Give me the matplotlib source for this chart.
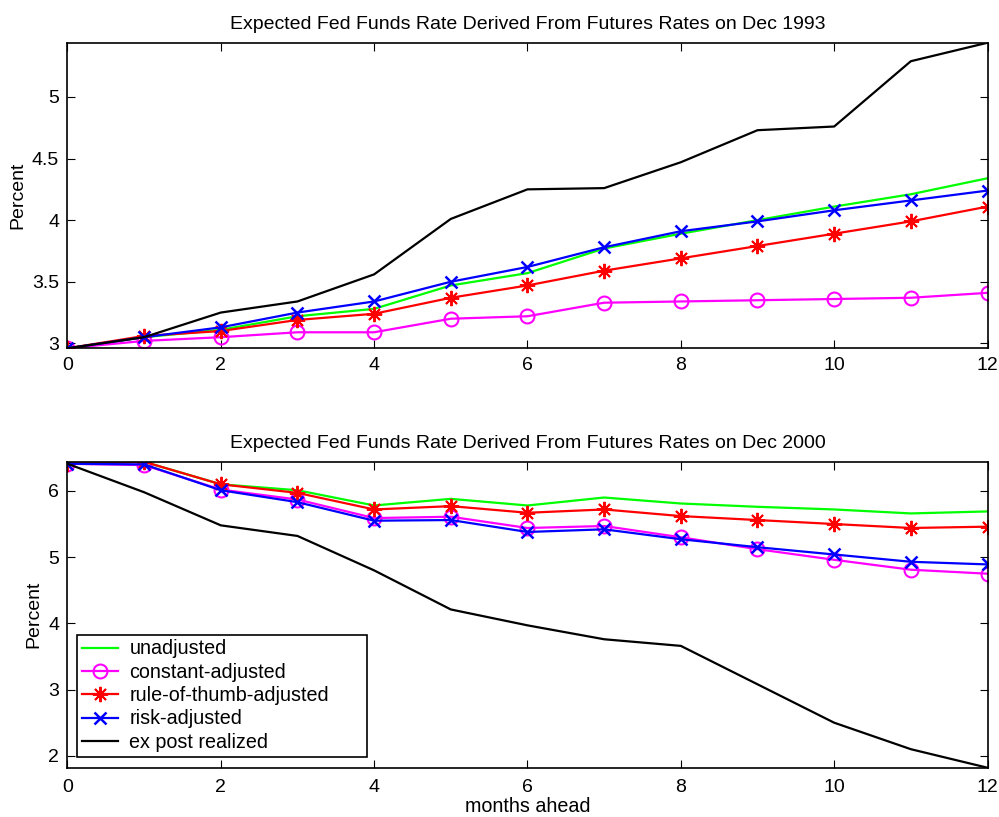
import numpy as np
import matplotlib
matplotlib.use("Agg")
import matplotlib.pyplot as plt

plt.rcParams['font.family'] = ['Liberation Sans', 'DejaVu Sans']

months = list(range(13))

# Dec 1993
unadj_93 = [2.96, 3.05, 3.11, 3.22, 3.28, 3.47, 3.57, 3.77, 3.89, 4.00, 4.11, 4.21, 4.34]
const_93 = [2.96, 3.02, 3.05, 3.09, 3.09, 3.20, 3.22, 3.33, 3.34, 3.35, 3.36, 3.37, 3.41]
rule_93 = [2.96, 3.06, 3.10, 3.19, 3.24, 3.37, 3.47, 3.59, 3.69, 3.79, 3.89, 3.99, 4.11]
risk_93 = [2.96, 3.05, 3.13, 3.25, 3.34, 3.50, 3.62, 3.78, 3.91, 3.99, 4.08, 4.16, 4.24]
real_93 = [2.96, 3.05, 3.25, 3.34, 3.56, 4.01, 4.25, 4.26, 4.47, 4.73, 4.76, 5.29, 5.44]

# Dec 2000
unadj_00 = [6.41, 6.44, 6.10, 6.01, 5.78, 5.88, 5.78, 5.90, 5.81, 5.76, 5.72, 5.66, 5.69]
const_00 = [6.41, 6.39, 6.02, 5.87, 5.59, 5.61, 5.44, 5.47, 5.30, 5.12, 4.96, 4.81, 4.75]
rule_00 = [6.41, 6.44, 6.10, 5.97, 5.72, 5.77, 5.67, 5.72, 5.62, 5.56, 5.50, 5.44, 5.46]
risk_00 = [6.41, 6.40, 6.01, 5.83, 5.55, 5.56, 5.38, 5.42, 5.27, 5.15, 5.04, 4.93, 4.89]
real_00 = [6.41, 5.98, 5.48, 5.32, 4.80, 4.21, 3.97, 3.76, 3.66, 3.08, 2.50, 2.10, 1.82]

labels = ["unadjusted", "constant-adjusted", "rule-of-thumb-adjusted",
          "risk-adjusted", "ex post realized"]

asterisk = (8, 2, 0)


def draw_panel(ax, unadj, const, rule, risk, real, title):
    lw = 1.6
    ax.plot(months, unadj, color=(0, 1, 0), lw=lw, label=labels[0])
    ax.plot(months, const, color=(1, 0, 1), lw=lw, marker='o', ms=10,
            mfc='none', mew=1.5, label=labels[1])
    ax.plot(months, rule, color=(1, 0, 0), lw=lw, marker=asterisk, ms=11,
            mew=1.4, label=labels[2])
    ax.plot(months, risk, color=(0, 0, 1), lw=lw, marker='x', ms=9,
            mew=1.8, label=labels[3])
    ax.plot(months, real, color='black', lw=lw, label=labels[4])
    allv = np.concatenate([unadj, const, rule, risk, real])
    ax.set_xlim(0, 12)
    ax.set_ylim(allv.min(), allv.max())
    ax.set_xticks(range(0, 13, 2))
    ax.tick_params(direction='in', top=True, right=True, labelsize=14,
                   length=6, width=0.8, pad=6)
    ax.set_title(title, fontsize=14, pad=10)
    ax.set_ylabel("Percent", fontsize=14, labelpad=4)
    for s in ax.spines.values():
        s.set_linewidth(1.2)


fig = plt.figure(figsize=(9.99, 8.17), dpi=100)
ax1 = fig.add_axes([0.0675, 0.5737, 0.921, 0.374])
ax2 = fig.add_axes([0.0675, 0.0603, 0.921, 0.3745])

draw_panel(ax1, unadj_93, const_93, rule_93, risk_93, real_93,
           "Expected Fed Funds Rate Derived From Futures Rates on Dec 1993")
ax1.set_yticks([3, 3.5, 4, 4.5, 5])
ax1.set_yticklabels(["3", "3.5", "4", "4.5", "5"])

draw_panel(ax2, unadj_00, const_00, rule_00, risk_00, real_00,
           "Expected Fed Funds Rate Derived From Futures Rates on Dec 2000")
ax2.set_yticks([2, 3, 4, 5, 6])
ax2.tick_params(axis='x', pad=8)
ax2.set_xlabel("months ahead", fontsize=14.2, labelpad=1)

leg = ax2.legend(loc='lower left', bbox_to_anchor=(0.0104, 0.036, 0.315, 0.395),
                 mode='expand', fontsize=14.2,
                 fancybox=False, framealpha=1, edgecolor='black',
                 handlelength=1.85, handletextpad=0.55, borderpad=0.25,
                 labelspacing=0.22, borderaxespad=0)
leg.get_frame().set_linewidth(1.2)

fig.savefig("out.png", dpi=100)
